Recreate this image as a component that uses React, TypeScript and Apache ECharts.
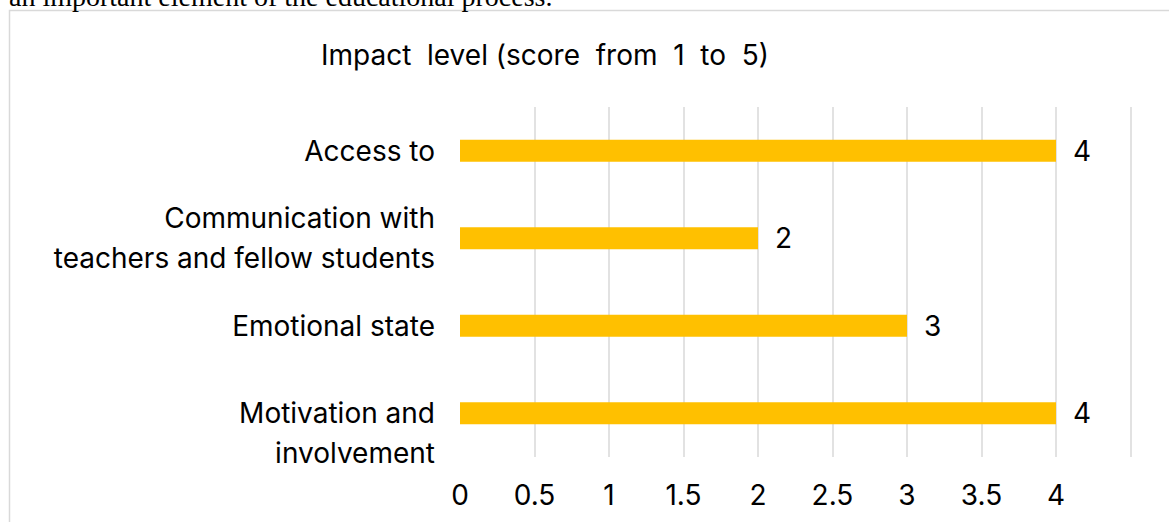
import React, { useEffect, useRef } from "react";
import * as echarts from "echarts";

const categories = [
  "Access to",
  "Communication with\nteachers and fellow students",
  "Emotional state",
  "Motivation and\ninvolvement",
];
const scores = [4, 2, 3, 4];
const titleText = "Impact  level (score  from  1  to  5)";
const captionText = "an important element of the educational process.";

const FONT = "Inter, sans-serif";
const FS = 28;

export default function App() {
  const ref = useRef<HTMLDivElement>(null);
  useEffect(() => {
    if (!ref.current) return;
    const chart = echarts.init(ref.current, undefined, { renderer: "svg" });
    chart.setOption({
      animation: false,
      backgroundColor: "#fff",
      graphic: [
        {
          type: "rect",
          shape: { x: 9.5, y: 10.5, width: 1300, height: 700 },
          style: { fill: "none", stroke: "#d9d9d9", lineWidth: 1.5 },
          silent: true,
        },
        {
          type: "text",
          x: 9,
          y: 10,
          style: {
            text: captionText,
            font: "28px 'Liberation Serif', serif",
            fill: "#000",
            verticalAlign: "bottom",
          },
          silent: true,
        },
        {
          type: "text",
          x: 545,
          y: 55,
          style: {
            text: titleText,
            font: `${FS}px ${FONT}`,
            fill: "#000",
            align: "center",
            verticalAlign: "middle",
          },
          silent: true,
        },
      ],
      grid: { left: 460, right: 38.5, top: 107, bottom: 65, containLabel: false },
      xAxis: {
        type: "value",
        min: 0,
        max: 4.5,
        interval: 0.5,
        axisLine: { show: false },
        axisTick: { show: false },
        axisLabel: {
          showMaxLabel: false,
          margin: 24,
          fontFamily: FONT,
          fontSize: FS,
          color: "#000",
        },
        splitLine: { show: true, showMinLine: false, lineStyle: { color: "#d9d9d9", width: 1.5 } },
      },
      yAxis: {
        type: "category",
        inverse: true,
        data: categories,
        axisLine: { show: false },
        axisTick: { show: false },
        axisLabel: {
          margin: 25,
          fontFamily: FONT,
          fontSize: FS,
          lineHeight: 40,
          color: "#000",
          align: "right",
          formatter: (v: string) => (v.startsWith("Motivation") ? "\n" + v : v),
        },
      },
      series: [
        {
          type: "bar",
          data: scores,
          barWidth: 22,
          itemStyle: { color: "#FFC000" },
          label: {
            show: true,
            position: "right",
            distance: 17,
            fontFamily: FONT,
            fontSize: FS,
            color: "#000",
          },
        },
      ],
    });
    return () => chart.dispose();
  }, []);
  return (
    <div
      ref={ref}
      style={{ position: "fixed", left: 0, top: 0, width: 1169, height: 522 }}
    />
  );
}
